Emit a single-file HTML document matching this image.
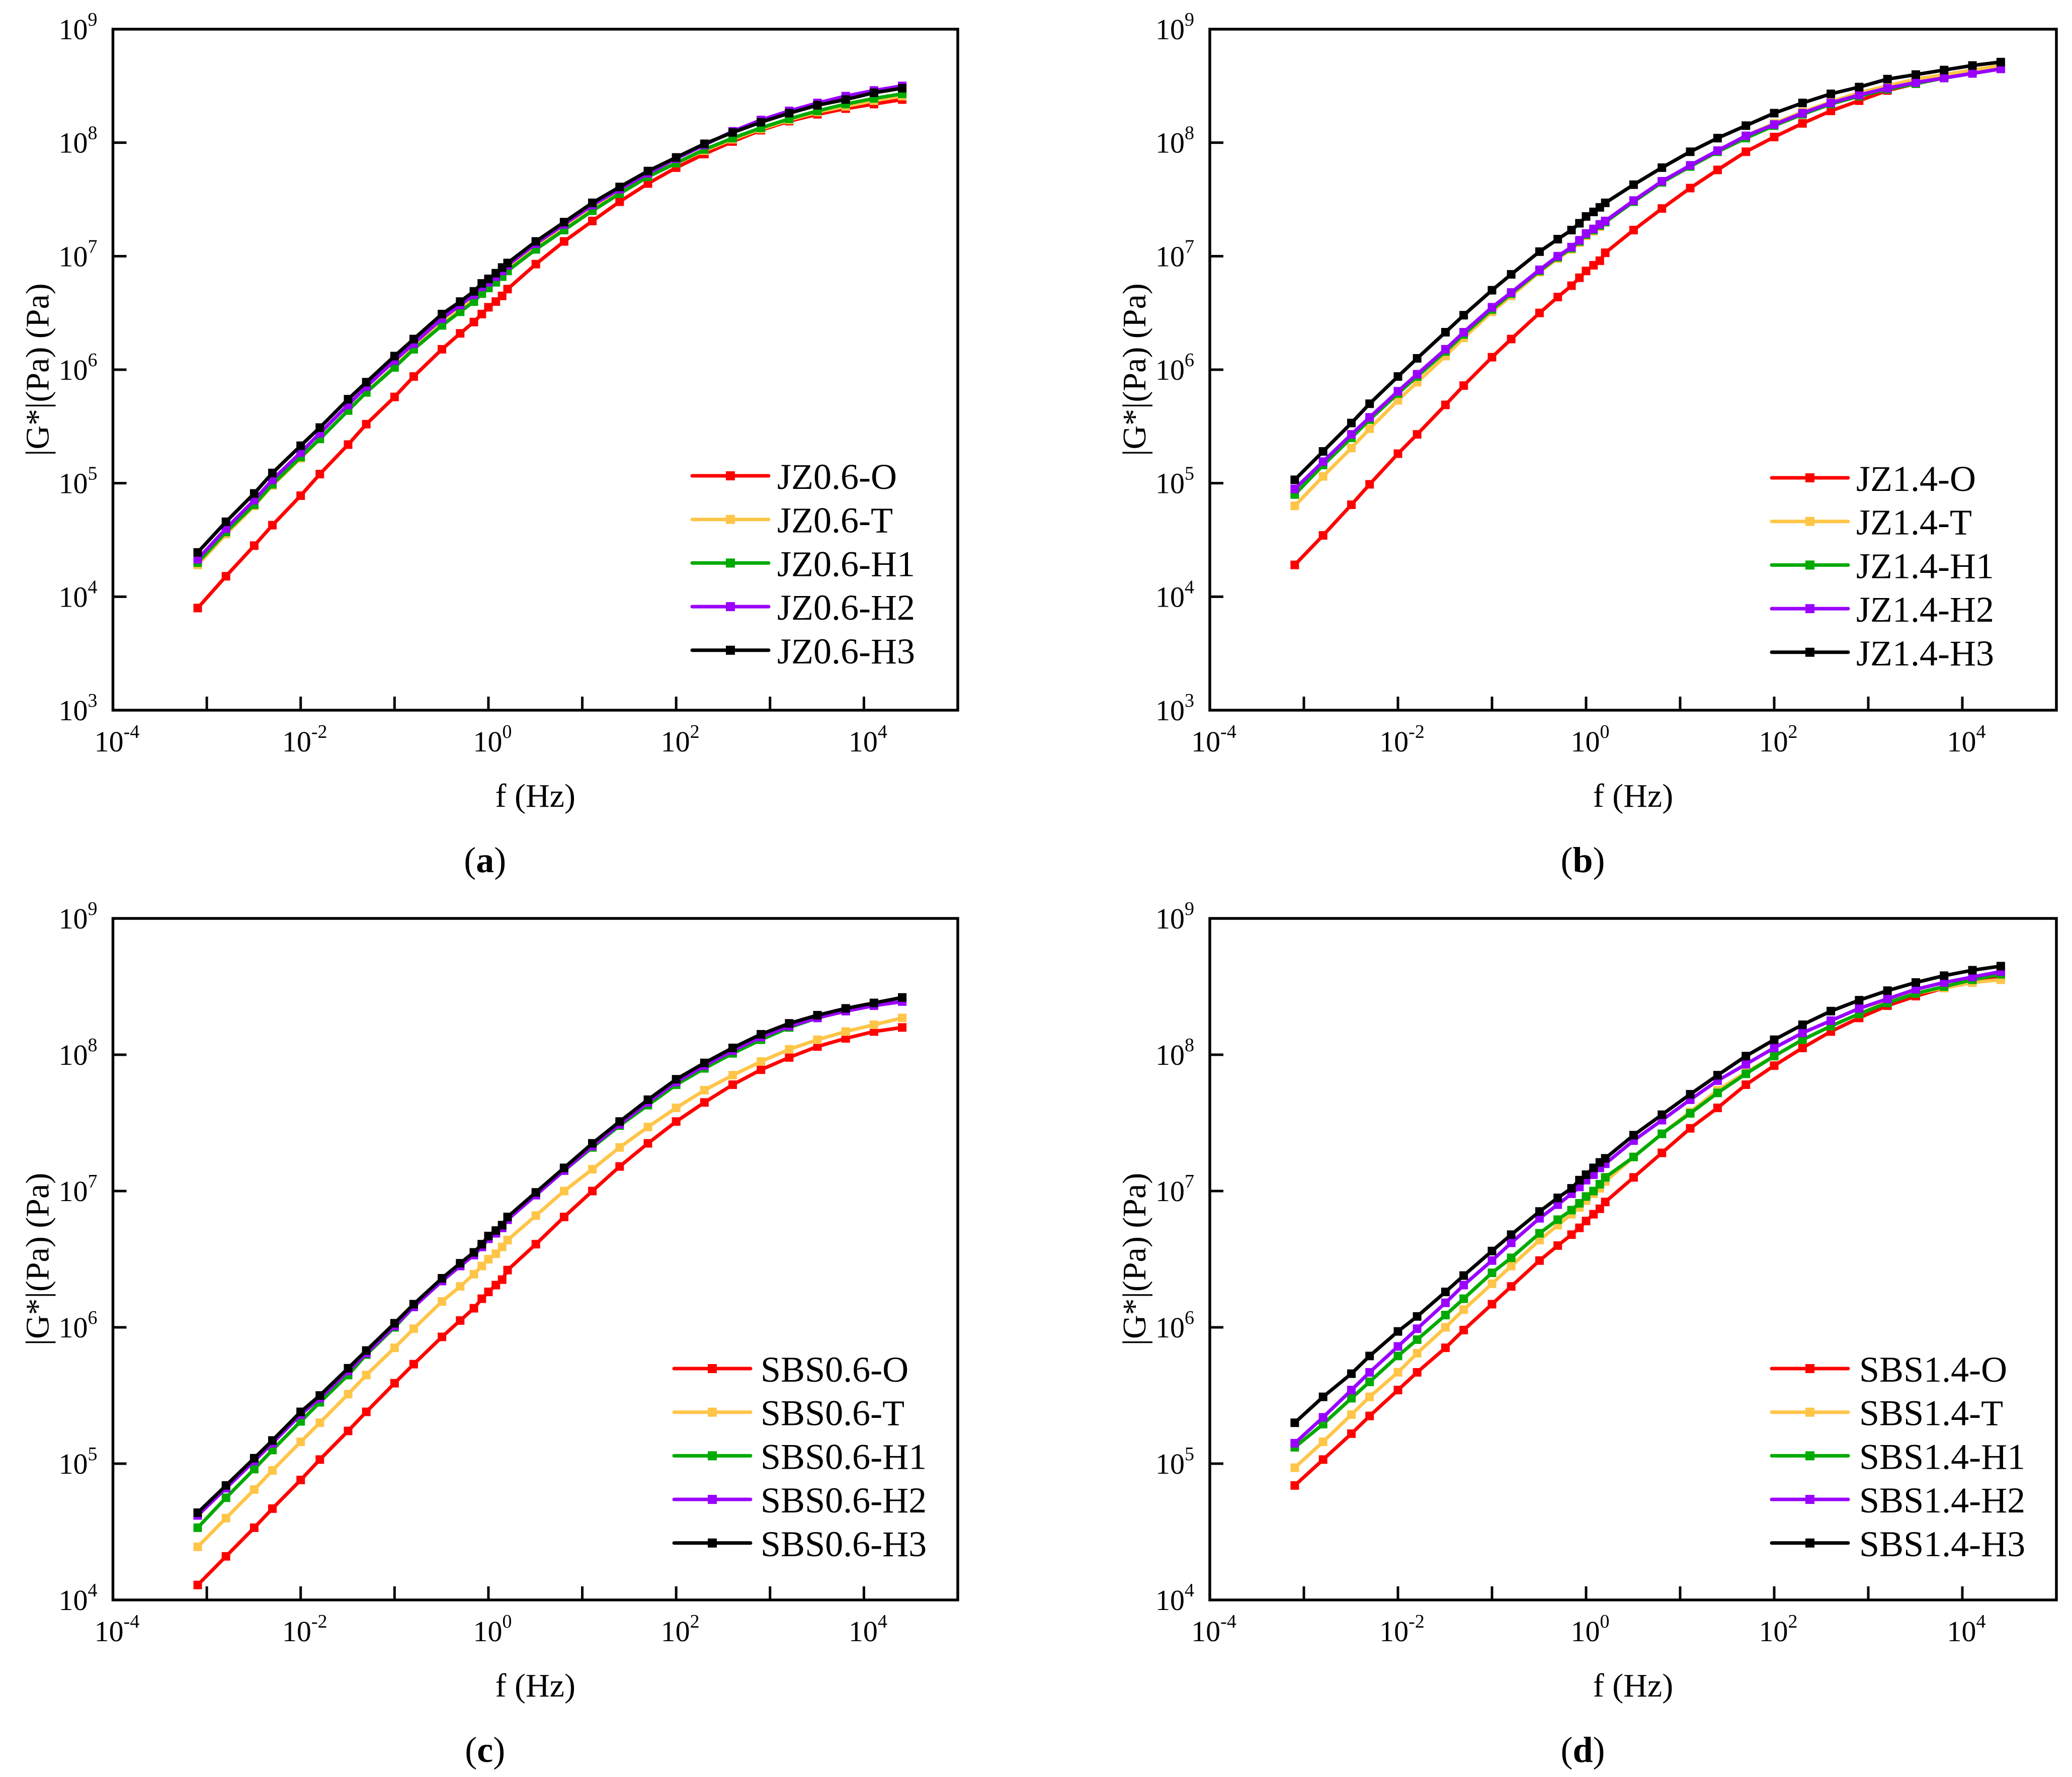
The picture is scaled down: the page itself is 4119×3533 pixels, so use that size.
<!DOCTYPE html>
<html><head><meta charset="utf-8">
<style>
html,body{margin:0;padding:0;background:#fff;}
svg{display:block;font-family:"Liberation Serif","Times New Roman",serif;}
svg text{font-family:"Liberation Serif","Times New Roman",serif;}
</style></head>
<body>
<svg id="fig" width="4119" height="3533" viewBox="0 0 4119 3533" xmlns="http://www.w3.org/2000/svg" font-family="Liberation Serif, serif"></svg>
<script>
// shared frequencies (Hz)
const freqs = [0.0008,0.0016,0.0032,0.005,0.01,0.016,0.032,0.05,0.1,0.16,0.32,0.5,0.7,0.85,1,1.2,1.4,1.6,3.2,6.4,12.8,25,50,100,200,400,800,1600,3200,6400,12800,25600];
const seriesColors = ["#ff0000","#ffc548","#00aa00","#9900ff","#000000"];
const suffixes = ["O","T","H1","H2","H3"];
const xTickExps = [-4,-3,-2,-1,0,1,2,3,4];
const xLabelExps = [-4,-2,0,2,4];

// panel (a) log10|G*|
const aO  = [3.90,4.18,4.45,4.63,4.89,5.08,5.34,5.52,5.76,5.94,6.18,6.32,6.42,6.49,6.55,6.60,6.65,6.71,6.93,7.13,7.31,7.48,7.64,7.78,7.90,8.01,8.11,8.19,8.25,8.30,8.34,8.38];
const aT  = [4.28,4.55,4.80,4.98,5.22,5.39,5.64,5.80,6.03,6.19,6.41,6.53,6.62,6.69,6.74,6.79,6.84,6.89,7.08,7.25,7.42,7.56,7.70,7.82,7.93,8.03,8.12,8.20,8.27,8.32,8.37,8.41];
const aH1 = [4.30,4.57,4.81,4.99,5.23,5.39,5.64,5.80,6.02,6.18,6.39,6.51,6.60,6.67,6.72,6.77,6.82,6.87,7.06,7.23,7.40,7.55,7.70,7.82,7.94,8.04,8.13,8.21,8.28,8.34,8.39,8.43];
const aH2 = [4.33,4.60,4.85,5.03,5.27,5.44,5.69,5.85,6.08,6.23,6.45,6.57,6.66,6.73,6.77,6.82,6.87,6.92,7.11,7.28,7.45,7.59,7.73,7.86,7.98,8.10,8.20,8.28,8.35,8.41,8.46,8.50];
const aH3 = [4.39,4.66,4.91,5.09,5.33,5.49,5.74,5.89,6.12,6.27,6.49,6.60,6.69,6.76,6.80,6.85,6.90,6.94,7.13,7.30,7.47,7.61,7.75,7.87,7.99,8.09,8.18,8.26,8.33,8.38,8.44,8.48];
// panel (b)
const bO  = [4.28,4.54,4.81,4.99,5.26,5.43,5.69,5.86,6.11,6.27,6.50,6.64,6.74,6.81,6.87,6.92,6.96,7.03,7.23,7.42,7.60,7.76,7.92,8.05,8.17,8.28,8.37,8.46,8.52,8.57,8.62,8.67];
const bT  = [4.80,5.06,5.31,5.48,5.73,5.89,6.12,6.28,6.51,6.65,6.86,6.98,7.06,7.12,7.18,7.22,7.26,7.30,7.48,7.65,7.79,7.93,8.06,8.17,8.27,8.36,8.44,8.50,8.56,8.60,8.64,8.68];
const bH1 = [4.90,5.16,5.40,5.56,5.79,5.94,6.16,6.31,6.53,6.67,6.87,6.99,7.07,7.13,7.19,7.23,7.27,7.30,7.48,7.65,7.79,7.92,8.04,8.15,8.25,8.34,8.41,8.47,8.52,8.57,8.61,8.65];
const bH2 = [4.95,5.19,5.43,5.58,5.81,5.96,6.18,6.33,6.55,6.68,6.88,7.00,7.08,7.14,7.20,7.24,7.28,7.31,7.49,7.66,7.80,7.93,8.06,8.16,8.26,8.35,8.42,8.48,8.53,8.57,8.61,8.65];
const bH3 = [5.03,5.28,5.53,5.70,5.94,6.10,6.33,6.48,6.70,6.84,7.04,7.15,7.23,7.29,7.35,7.39,7.43,7.47,7.63,7.78,7.92,8.04,8.15,8.26,8.35,8.43,8.49,8.56,8.60,8.64,8.68,8.71];
// panel (c)
const cO  = [4.11,4.32,4.53,4.67,4.88,5.03,5.24,5.38,5.59,5.73,5.93,6.05,6.14,6.21,6.26,6.31,6.35,6.42,6.61,6.81,7.00,7.18,7.35,7.51,7.65,7.78,7.89,7.98,8.06,8.12,8.17,8.20];
const cT  = [4.39,4.60,4.81,4.95,5.16,5.30,5.51,5.65,5.85,5.99,6.19,6.30,6.39,6.45,6.50,6.54,6.59,6.64,6.82,7.00,7.16,7.32,7.47,7.61,7.74,7.85,7.95,8.04,8.11,8.17,8.22,8.27];
const cH1 = [4.53,4.75,4.96,5.10,5.31,5.45,5.65,5.80,6.00,6.15,6.34,6.45,6.53,6.59,6.65,6.69,6.73,6.79,6.97,7.15,7.32,7.48,7.63,7.78,7.90,8.01,8.11,8.20,8.27,8.33,8.38,8.42];
const cH2 = [4.62,4.82,5.02,5.15,5.36,5.48,5.68,5.81,6.01,6.15,6.34,6.45,6.53,6.59,6.65,6.69,6.73,6.79,6.97,7.15,7.33,7.49,7.65,7.80,7.92,8.03,8.13,8.21,8.27,8.32,8.36,8.39];
const cH3 = [4.64,4.84,5.04,5.17,5.38,5.50,5.70,5.83,6.03,6.17,6.36,6.47,6.55,6.61,6.67,6.71,6.75,6.81,6.99,7.17,7.35,7.51,7.67,7.82,7.94,8.05,8.15,8.23,8.29,8.34,8.38,8.42];
// panel (d)
const dO  = [4.84,5.03,5.22,5.35,5.54,5.67,5.85,5.98,6.17,6.30,6.49,6.60,6.68,6.73,6.78,6.83,6.87,6.92,7.10,7.28,7.46,7.61,7.78,7.92,8.05,8.17,8.27,8.36,8.43,8.49,8.53,8.57];
const dT  = [4.97,5.16,5.36,5.49,5.67,5.81,6.00,6.13,6.32,6.45,6.64,6.75,6.83,6.88,6.93,6.98,7.02,7.07,7.25,7.42,7.58,7.74,7.87,7.99,8.11,8.21,8.30,8.39,8.45,8.49,8.53,8.55];
const dH1 = [5.12,5.29,5.48,5.60,5.79,5.91,6.09,6.21,6.40,6.51,6.69,6.79,6.86,6.91,6.96,7.00,7.05,7.10,7.25,7.42,7.57,7.72,7.86,7.99,8.11,8.21,8.30,8.38,8.45,8.50,8.55,8.59];
const dH2 = [5.15,5.34,5.54,5.67,5.86,5.99,6.18,6.31,6.49,6.62,6.80,6.90,6.98,7.03,7.08,7.12,7.17,7.20,7.37,7.52,7.67,7.81,7.93,8.05,8.16,8.25,8.34,8.41,8.48,8.53,8.57,8.61];
const dH3 = [5.30,5.49,5.66,5.79,5.97,6.08,6.26,6.38,6.56,6.68,6.85,6.95,7.02,7.08,7.12,7.17,7.21,7.24,7.41,7.56,7.71,7.85,7.99,8.11,8.22,8.32,8.40,8.47,8.53,8.58,8.62,8.65];

const panels = [
  {id:"a", prefix:"JZ0.6-", L:224.5, R:1904, T:58, B:1412, yMin:3, yMax:9, series:[aO,aT,aH1,aH2,aH3], legX:1376, legTX:1545, legY:946},
  {id:"b", prefix:"JZ1.4-", L:2405, R:4088, T:58, B:1412, yMin:3, yMax:9, series:[bO,bT,bH1,bH2,bH3], legX:3522, legTX:3690, legY:950},
  {id:"c", prefix:"SBS0.6-", L:224.5, R:1904, T:1826, B:3181, yMin:4, yMax:9, series:[cO,cT,cH1,cH2,cH3], legX:1340, legTX:1512, legY:2721},
  {id:"d", prefix:"SBS1.4-", L:2405, R:4088, T:1826, B:3181, yMin:4, yMax:9, series:[dO,dT,dH1,dH2,dH3], legX:3522, legTX:3696, legY:2721}
];

const FONT = '"Liberation Serif", "Times New Roman", serif';
const NS = "http://www.w3.org/2000/svg";
const svg = document.getElementById("fig");
function mk(tag, attrs, parent){
  const e = document.createElementNS(NS, tag);
  for (const k in attrs) e.setAttribute(k, attrs[k]);
  if (tag === "text") e.setAttribute("font-family", FONT);
  (parent||svg).appendChild(e);
  return e;
}
function powLabel(parent, x, y, exp, anchor){
  const t = mk("text", {x:x, y:y, "font-size":58, "text-anchor":anchor, fill:"#000"}, parent);
  const a = mk("tspan", {}, t); a.textContent = "10";
  const b = mk("tspan", {"font-size":38, dy:-27}, t); b.textContent = String(exp);
  return t;
}

panels.forEach(p => {
  const g = mk("g", {});
  
  
  const xS = v => p.L + (Math.log10(v) + 4) / 9 * (p.R - p.L);
  const xE = e => p.L + (e + 4) / 9 * (p.R - p.L);
  const yS = v => p.B - (v - p.yMin) / (p.yMax - p.yMin) * (p.B - p.T);

  const fr = mk("rect", {x:p.L, y:p.T, width:p.R-p.L, height:p.B-p.T, fill:"none", stroke:"#000", "stroke-width":5.5}, g);
  
  

  xTickExps.forEach(e => {
    if (e === -4) return;
    const tk = mk("line", {x1:xE(e), x2:xE(e), y1:p.B, y2:p.B-27, stroke:"#000", "stroke-width":5}, g);
    
    
  });
  xLabelExps.forEach(e => {
    const t = powLabel(g, xE(e)+8, p.B+82, e, "middle");
    
    
  });
  for (let e = p.yMin; e <= p.yMax; e++) {
    if (e !== p.yMin && e !== p.yMax) {
      const tk = mk("line", {x1:p.L, x2:p.L+27, y1:yS(e), y2:yS(e), stroke:"#000", "stroke-width":5}, g);
      
      
    }
    const t = powLabel(g, p.L-31, yS(e)+20, e, "end");
    
    
  }
  const xt = mk("text", {x:(p.L+p.R)/2, y:p.B+192, "font-size":66, "text-anchor":"middle"}, g);
  xt.textContent = "f (Hz)";
  
  
  const yc = (p.T+p.B)/2;
  const yt = mk("text", {x:0, y:0, "font-size":66, "text-anchor":"middle", transform:"translate("+(p.L-128)+","+yc+") rotate(-90)"}, g);
  yt.textContent = "|G*|(Pa) (Pa)";
  
  
  const pl = mk("text", {x:(p.L+p.R)/2-100, y:p.B+322, "font-size":72, "text-anchor":"middle"}, g);
  const p1 = mk("tspan", {}, pl); p1.textContent = "(";
  const p2 = mk("tspan", {"font-weight":"bold"}, pl); p2.textContent = p.id;
  const p3 = mk("tspan", {}, pl); p3.textContent = ")";
  
  

  p.series.forEach((vals, si) => {
    const sg = mk("g", {}, g);
    
    
    const pts = vals.map((v, i) => xS(freqs[i]).toFixed(1) + "," + yS(v).toFixed(1)).join(" ");
    const pl2 = mk("polyline", {points:pts, fill:"none", stroke:seriesColors[si], "stroke-width":7, "stroke-linejoin":"round"}, sg);
    
    
    vals.forEach((v, i) => {
      const m = mk("rect", {x:xS(freqs[i])-8.5, y:yS(v)-8.5, width:17, height:17, fill:seriesColors[si]}, sg);
      
      
    });
  });

  const lg = mk("g", {}, g);
  
  
  suffixes.forEach((s, si) => {
    const yy = p.legY + si*86.7;
    const eg = mk("g", {}, lg);
    
    
    mk("line", {x1:p.legX, x2:p.legX+152, y1:yy, y2:yy, stroke:seriesColors[si], "stroke-width":7, "stroke-linecap":"round"}, eg);
    mk("rect", {x:p.legX+76-9, y:yy-9, width:18, height:18, fill:seriesColors[si]}, eg);
    const tx = mk("text", {x:p.legTX, y:yy+26, "font-size":72}, eg);
    tx.textContent = p.prefix + s;
  });
});
</script>
</body></html>
